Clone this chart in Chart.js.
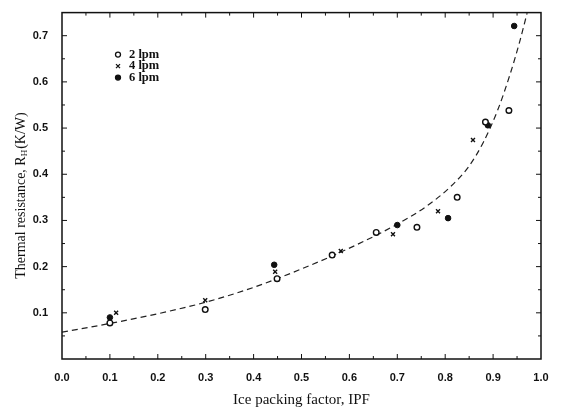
<!DOCTYPE html>
<html lang="en">
<head>
    <meta charset="UTF-8">
    <title>Thermal resistance vs IPF</title>
    <script src="https://cdn.jsdelivr.net/npm/chart.js"></script>
    <style>
        body {
            margin: 0;
            background-color: #ffffff;
        }
        #wrap {
            width: 563px;
            height: 413px;
        }
    </style>
</head>
<body>
    <div id="wrap">
        <canvas id="ipfChart" width="563" height="413"></canvas>
    </div>

    <script>
        // measured points, one pair of arrays per flow rate
        var ipf2 = [0.10, 0.299, 0.449, 0.564, 0.656, 0.741, 0.825, 0.884, 0.933];
        var r2 = [0.078, 0.107, 0.174, 0.225, 0.274, 0.285, 0.350, 0.513, 0.538];

        var ipf4 = [0.113, 0.299, 0.445, 0.582, 0.691, 0.785, 0.858];
        var r4 = [0.100, 0.127, 0.189, 0.234, 0.270, 0.320, 0.474];

        var ipf6 = [0.10, 0.443, 0.70, 0.806, 0.889, 0.944];
        var r6 = [0.090, 0.204, 0.290, 0.305, 0.506, 0.721];

        // dashed fit line
        var fitX = [0.0, 0.1, 0.2, 0.3, 0.4, 0.5, 0.6, 0.7, 0.76, 0.81, 0.85, 0.88, 0.91, 0.935, 0.955, 0.971];
        var fitY = [0.058, 0.077, 0.098, 0.123, 0.155, 0.195, 0.240, 0.292, 0.330, 0.372, 0.418, 0.470, 0.540, 0.615, 0.685, 0.749];

        var xTicks = [0.0, 0.1, 0.2, 0.3, 0.4, 0.5, 0.6, 0.7, 0.8, 0.9, 1.0];
        var yTicks = [0.1, 0.2, 0.3, 0.4, 0.5, 0.6, 0.7];

        function pairs(xs, ys) {
            return xs.map(function (x, i) { return { x: x, y: ys[i] }; });
        }

        var tickFont = { family: 'Arial, "Liberation Sans", sans-serif', size: 11, weight: 'bold' };

        // inward tick marks on all four sides, legend inside the plot, y title with subscript
        var framePlugin = {
            id: 'frame',
            afterDraw: function (chart) {
                var ctx = chart.ctx;
                var a = chart.chartArea;
                var xs = chart.scales.x;
                var ys = chart.scales.y;
                ctx.save();
                ctx.strokeStyle = '#111';
                ctx.lineWidth = 1.5;
                ctx.strokeRect(a.left, a.top, a.right - a.left, a.bottom - a.top);

                ctx.lineWidth = 1;
                var i, v, p, len;
                for (i = 1; i < 20; i++) {
                    v = i * 0.05;
                    p = xs.getPixelForValue(v);
                    len = (i % 2 === 0) ? 5 : 3;
                    ctx.beginPath();
                    ctx.moveTo(p, a.bottom); ctx.lineTo(p, a.bottom - len);
                    ctx.moveTo(p, a.top); ctx.lineTo(p, a.top + len);
                    ctx.stroke();
                }
                for (i = 1; i < 15; i++) {
                    v = i * 0.05;
                    p = ys.getPixelForValue(v);
                    len = (i % 2 === 0) ? 5 : 3;
                    ctx.beginPath();
                    ctx.moveTo(a.left, p); ctx.lineTo(a.left + len, p);
                    ctx.moveTo(a.right, p); ctx.lineTo(a.right - len, p);
                    ctx.stroke();
                }

                // legend
                var lx = a.left + 56;
                var ly = a.top + 42;
                chart.data.datasets.forEach(function (ds, k) {
                    if (!ds.label) return;
                    var yy = ly + k * 11.5;
                    ctx.beginPath();
                    ctx.lineWidth = 1.3;
                    if (ds.pointStyle === 'crossRot') {
                        ctx.moveTo(lx - 2, yy - 2); ctx.lineTo(lx + 2, yy + 2);
                        ctx.moveTo(lx + 2, yy - 2); ctx.lineTo(lx - 2, yy + 2);
                        ctx.stroke();
                    } else {
                        ctx.arc(lx, yy, 2.5, 0, Math.PI * 2);
                        if (ds.backgroundColor === '#111') { ctx.fillStyle = '#111'; ctx.fill(); }
                        ctx.stroke();
                    }
                    ctx.fillStyle = '#111';
                    ctx.font = 'bold 12.5px "Liberation Serif", serif';
                    ctx.textBaseline = 'middle';
                    ctx.textAlign = 'left';
                    ctx.fillText(ds.label, lx + 11, yy);
                });

                // y axis title
                ctx.translate(21, 196);
                ctx.rotate(-Math.PI / 2);
                ctx.textBaseline = 'middle';
                ctx.textAlign = 'left';
                var big = '14px "Liberation Serif", serif';
                var small = '9px "Liberation Serif", serif';
                var t1 = 'Thermal resistance, R';
                var t2 = 'H';
                var t3 = '(K/W)';
                ctx.font = big;
                var w1 = ctx.measureText(t1).width;
                var w3 = ctx.measureText(t3).width;
                ctx.font = small;
                var w2 = ctx.measureText(t2).width;
                var x0 = -(w1 + w2 + w3) / 2;
                ctx.font = big;
                ctx.fillText(t1, x0, 0);
                ctx.fillText(t3, x0 + w1 + w2 + 1, 0);
                ctx.font = small;
                ctx.fillText(t2, x0 + w1, 4);
                ctx.restore();
            }
        };

        var ctx = document.getElementById('ipfChart').getContext('2d');
        var chart = new Chart(ctx, {
            type: 'scatter',
            data: {
                datasets: [{
                    label: '2 lpm',
                    data: pairs(ipf2, r2),
                    pointStyle: 'circle',
                    pointRadius: 2.8,
                    borderColor: '#111',
                    backgroundColor: '#fff',
                    borderWidth: 1.4
                }, {
                    label: '4 lpm',
                    data: pairs(ipf4, r4),
                    pointStyle: 'crossRot',
                    pointRadius: 2.8,
                    borderColor: '#111',
                    backgroundColor: '#111',
                    borderWidth: 1.4
                }, {
                    label: '6 lpm',
                    data: pairs(ipf6, r6),
                    pointStyle: 'circle',
                    pointRadius: 2.8,
                    borderColor: '#111',
                    backgroundColor: '#111',
                    borderWidth: 1
                }, {
                    label: '',
                    data: pairs(fitX, fitY),
                    showLine: true,
                    pointRadius: 0,
                    borderColor: '#222',
                    borderWidth: 1.2,
                    borderDash: [6, 4],
                    cubicInterpolationMode: 'monotone',
                    fill: false
                }]
            },
            options: {
                responsive: false,
                animation: false,
                layout: {
                    padding: { top: 10, right: 22, left: 0, bottom: 0 }
                },
                plugins: {
                    legend: { display: false },
                    tooltip: { enabled: false }
                },
                scales: {
                    x: {
                        type: 'linear',
                        min: 0,
                        max: 1,
                        afterBuildTicks: function (scale) {
                            scale.ticks = xTicks.map(function (v) { return { value: v }; });
                        },
                        afterFit: function (scale) { scale.height = 54; },
                        grid: { display: false },
                        border: { display: false },
                        ticks: {
                            color: '#111',
                            font: tickFont,
                            padding: 4,
                            maxRotation: 0,
                            callback: function (v) { return Number(v).toFixed(1); }
                        },
                        title: {
                            display: true,
                            text: 'Ice packing factor, IPF',
                            color: '#111',
                            font: { family: '"Liberation Serif", serif', size: 15 },
                            padding: { top: 8 }
                        }
                    },
                    y: {
                        type: 'linear',
                        min: 0,
                        max: 0.75,
                        afterBuildTicks: function (scale) {
                            scale.ticks = yTicks.map(function (v) { return { value: v }; });
                        },
                        afterFit: function (scale) { scale.width = 62; },
                        grid: { display: false },
                        border: { display: false },
                        ticks: {
                            color: '#111',
                            font: tickFont,
                            padding: 6,
                            callback: function (v) { return Number(v).toFixed(1); }
                        }
                    }
                }
            },
            plugins: [framePlugin]
        });
    </script>
</body>
</html>
